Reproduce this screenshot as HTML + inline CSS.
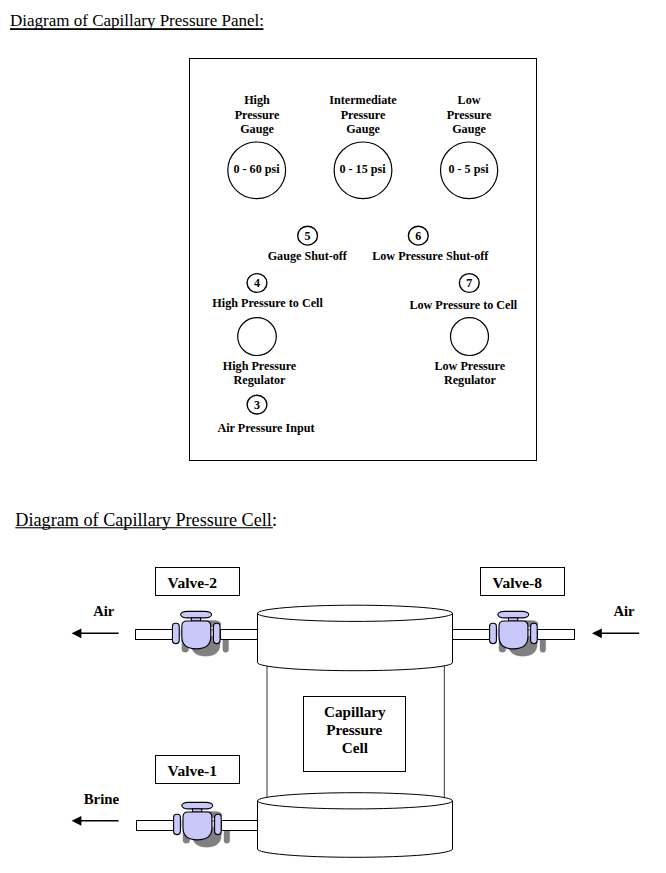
<!DOCTYPE html>
<html>
<head>
<meta charset="utf-8">
<title>Capillary Pressure Diagrams</title>
<style>
html,body{margin:0;padding:0;background:#fff;}
body{width:666px;height:873px;overflow:hidden;position:relative;font-family:"Liberation Serif",serif;color:#000;}
svg{position:absolute;left:0;top:0;display:block;}
text{font-family:"Liberation Serif",serif;fill:#000;}
.t{font-size:17.5px;}
.b{font-weight:bold;font-size:12.15px;text-anchor:middle;}
.n{font-weight:bold;font-size:12px;text-anchor:middle;}
.v{font-weight:bold;font-size:15.5px;text-anchor:middle;}
.c{fill:#fff;stroke:#000;stroke-width:1.2;}
.r{fill:#fff;stroke:#000;stroke-width:1;shape-rendering:crispEdges;}
.l{fill:none;stroke:#000;stroke-width:1.2;}
.vf{fill:#c8c8fb;stroke:#000;stroke-width:1.1;}
.c1{fill:#fff;stroke:#000;stroke-width:1;}
.l1{fill:none;stroke:#000;stroke-width:1;}
.sh{fill:#808080;stroke:#808080;stroke-width:0.3;}
</style>
</head>
<body>
<svg width="666" height="873" viewBox="0 0 666 873">
<defs>
<g id="vs">
<rect x="-15.6" y="-22.950" width="30.9" height="6.500" rx="6.5" ry="3.250"/>
<rect x="-4.900" y="-16.450" width="9.200" height="3.200"/>
<path d="M-14.4 -8.300 Q-14.4 -13.3 -9.400 -13.3 H9.500 Q14.5 -13.3 14.5 -8.300 V2.500 C14.5 10.500 9 14.6 0 14.6 C-9 14.6 -14.4 10.500 -14.4 2.500 Z"/>
<rect x="-23.8" y="-11" width="6.8" height="20.300" rx="3"/>
<rect x="17.2" y="-11" width="6.6" height="20.300" rx="3"/>
</g>
<g id="vsh">
<rect x="-15.6" y="-21.800" width="30.9" height="6.500" rx="6.5" ry="3.250"/>
<path d="M-14.4 -8.300 Q-14.4 -13.3 -9.400 -13.3 H9.500 Q14.5 -13.3 14.5 -8.300 V2 C14.5 10 9 13.900 0 13.900 C-9 13.900 -14.4 10 -14.4 2 Z"/>
<rect x="-23.8" y="-10.300" width="6.8" height="20.300" rx="3"/>
<rect x="17.2" y="-10.300" width="5.800" height="20.300" rx="2.900"/>
</g>
<g id="valve">
<rect x="-17.5" y="-5.500" width="4" height="7.500" fill="#d0d0fc"/>
<rect x="14" y="-3.800" width="4" height="5.500" fill="#d0d0fc"/>
<use href="#vs" class="vf"/>
</g>
<g id="cap2">
<path class="c1" d="M-97.500 0 A97.500 8.100 0 0 1 97.500 0 V48.200 A97.500 8.300 0 0 1 -97.500 48.200 Z"/>
<path class="l1" d="M-97.500 0 A97.500 8.100 0 0 0 97.500 0"/>
</g>
<g id="cap">
<path class="c1" d="M-97.500 0 A97.500 8.100 0 0 1 97.500 0 V49.300 A97.500 8.100 0 0 1 -97.500 49.300 Z"/>
<path class="l1" d="M-97.500 0 A97.500 8.100 0 0 0 97.500 0"/>
</g>
</defs>

<!-- Title 1 -->
<text class="t" x="10" y="26.4" style="font-size:17px">Diagram of Capillary Pressure Panel:</text>
<rect x="10" y="28.2" width="253.5" height="1.8" fill="#000"/>

<!-- Panel -->
<rect class="r" x="189.5" y="58.5" width="347" height="402"/>

<text class="b" x="257" y="104">High</text>
<text class="b" x="257" y="118.6">Pressure</text>
<text class="b" x="257" y="133">Gauge</text>
<text class="b" x="363" y="104">Intermediate</text>
<text class="b" x="363" y="118.6">Pressure</text>
<text class="b" x="363" y="133">Gauge</text>
<text class="b" x="469" y="104">Low</text>
<text class="b" x="469" y="118.6">Pressure</text>
<text class="b" x="469" y="133">Gauge</text>

<ellipse class="c" cx="256.7" cy="170.3" rx="28.900" ry="28.300"/>
<ellipse class="c" cx="363" cy="170.3" rx="28.900" ry="28.300"/>
<ellipse class="c" cx="469.1" cy="170.3" rx="28.600" ry="28.300"/>
<text class="b" x="256.500" y="172.7">0 - 60 psi</text>
<text class="b" x="362.500" y="172.7">0 - 15 psi</text>
<text class="b" x="468.500" y="172.7">0 - 5 psi</text>

<ellipse class="c" cx="307.6" cy="235.7" rx="9.9" ry="9.4" style="stroke-width:1.4"/>
<text class="n" x="307.5" y="239.7">5</text>
<ellipse class="c" cx="418.3" cy="235.7" rx="9.9" ry="9.4" style="stroke-width:1.4"/>
<text class="n" x="418.3" y="239.7">6</text>
<text class="b" x="307.3" y="260">Gauge Shut-off</text>
<text class="b" x="430.3" y="260">Low Pressure Shut-off</text>

<ellipse class="c" cx="257" cy="283" rx="9.9" ry="9.4" style="stroke-width:1.4"/>
<text class="n" x="257" y="286.7">4</text>
<ellipse class="c" cx="469.3" cy="283" rx="9.9" ry="9.4" style="stroke-width:1.4"/>
<text class="n" x="469.3" y="286.7">7</text>
<text class="b" x="267.6" y="307">High Pressure to Cell</text>
<text class="b" x="463.3" y="309">Low Pressure to Cell</text>

<ellipse class="c" cx="257" cy="336.6" rx="19.3" ry="18.9"/>
<ellipse class="c" cx="469.5" cy="336.6" rx="19" ry="18.9"/>
<text class="b" x="259.5" y="370">High Pressure</text>
<text class="b" x="259.5" y="384">Regulator</text>
<text class="b" x="469.8" y="370">Low Pressure</text>
<text class="b" x="469.9" y="384">Regulator</text>

<ellipse class="c" cx="257" cy="404.6" rx="9.9" ry="9.4" style="stroke-width:1.4"/>
<text class="n" x="257" y="408.7">3</text>
<text class="b" x="266" y="432">Air Pressure Input</text>

<!-- Title 2 -->
<text class="t" x="15.3" y="526" style="font-size:18.2px">Diagram of Capillary Pressure Cell:</text>
<rect x="15.3" y="527.2" width="257.6" height="1.1" fill="#000"/>

<!-- Cell -->
<path class="l1" d="M267 665 V797 M444.300 665 V797" style="stroke:#333"/>
<use href="#cap" transform="translate(355,613.3)"/>
<use href="#cap2" transform="translate(355,800.8)"/>
<rect class="r" x="303.500" y="696.500" width="102" height="75"/>
<text class="v" x="354.800" y="717.100" style="font-size:15.200px">Capillary</text>
<text class="v" x="354.200" y="735" style="font-size:15.200px">Pressure</text>
<text class="v" x="354.800" y="752.800" style="font-size:15.200px">Cell</text>

<!-- shadows -->
<use href="#vsh" class="sh" transform="translate(205.600,642.300)"/>
<use href="#vsh" class="sh" transform="translate(522.750,642.300)"/>
<use href="#vsh" class="sh" transform="translate(206.750,833.300)"/>

<!-- pipes -->
<rect class="r" x="135.500" y="629.500" width="40" height="10"/>
<rect class="r" x="220.500" y="629.500" width="37" height="10"/>
<rect class="r" x="452.500" y="629.500" width="40" height="10"/>
<rect class="r" x="537.500" y="629.500" width="37" height="10"/>
<rect class="r" x="136.500" y="820.500" width="40" height="10"/>
<rect class="r" x="221.500" y="820.500" width="36" height="10"/>

<use href="#valve" transform="translate(196.250,634.300)"/>
<use href="#valve" transform="translate(513.400,634.300)"/>
<use href="#valve" transform="translate(197.400,825.300)"/>

<!-- valve labels -->
<rect class="r" x="155.500" y="567.500" width="84" height="28"/>
<text class="v" x="192.300" y="588">Valve-2</text>
<rect class="r" x="480.500" y="567.500" width="84" height="28"/>
<text class="v" x="517.300" y="588">Valve-8</text>
<rect class="r" x="155.500" y="755.500" width="84" height="28"/>
<text class="v" x="192.300" y="776">Valve-1</text>

<!-- arrows -->
<text class="v" x="103.700" y="615.900" style="font-size:14.600px">Air</text>
<text class="v" x="624" y="615.900" style="font-size:14.600px">Air</text>
<text class="v" x="101.400" y="804" style="font-size:14.800px">Brine</text>
<g fill="#000" stroke="#000">
<line x1="78" y1="633.300" x2="118.600" y2="633.300" stroke-width="1.500"/>
<path d="M71.600 633.300 L81.400 628.400 V638.200 Z" stroke="none"/>
<line x1="598" y1="633.300" x2="639.200" y2="633.300" stroke-width="1.500"/>
<path d="M592 633.300 L601.800 628.400 V638.200 Z" stroke="none"/>
<line x1="78" y1="820.800" x2="118.600" y2="820.800" stroke-width="1.500"/>
<path d="M71.600 820.800 L81.400 815.900 V825.700 Z" stroke="none"/>
</g>
</svg>
</body>
</html>
